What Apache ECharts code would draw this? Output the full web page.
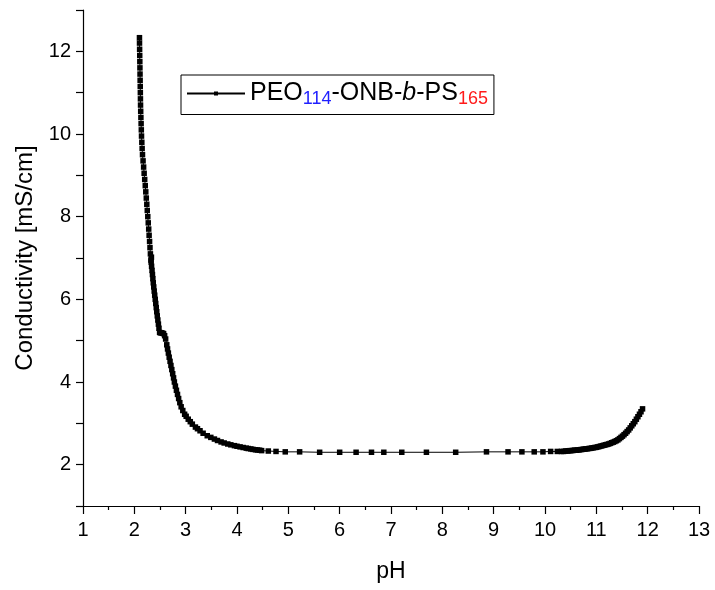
<!DOCTYPE html>
<html>
<head>
<meta charset="utf-8">
<script src="https://cdn.jsdelivr.net/npm/echarts@6/dist/echarts.min.js"></script>
<style>
html,body{margin:0;padding:0;background:#fff;}
#c{width:715px;height:590px;}
</style>
</head>
<body>
<div id="c"></div>
<script>
// pH values (x) and conductivity values (y)
var pH = [
  2.100,2.101,2.103,2.105,2.107,2.109,2.111,2.113,2.115,2.117,2.119,2.121,2.124,2.128,2.132,2.136,2.140,2.146,2.152,2.159,
  2.170,2.181,2.191,2.202,2.213,2.223,2.233,2.243,2.252,2.262,2.271,2.280,2.288,2.297,2.305,2.313,2.333,2.323,
  2.328,2.336,2.345,2.353,2.361,2.369,2.378,2.387,2.397,2.407,2.417,2.427,2.437,2.447,2.458,2.469,2.480,2.492,
  2.510,2.530,2.550,2.570,2.590,2.610,
  2.632,2.647,2.663,2.679,2.696,2.713,2.730,2.747,2.764,2.780,2.800,2.820,2.841,2.863,2.886,2.912,2.944,2.980,
  3.010,3.050,3.090,3.130,3.190,3.230,3.280,3.340,3.420,3.490,3.560,3.620,3.690,3.750,3.820,3.880,3.950,4.000,
  4.060,4.120,4.180,4.220,4.270,4.310,4.360,4.400,4.440,
  4.480,4.610,4.760,4.940,5.220,5.610,6.000,6.320,6.620,6.860,7.210,7.690,8.260,8.860,9.280,9.550,9.790,9.960,10.110,10.240,10.320,10.360,
  10.400,10.430,10.460,10.490,10.520,10.550,10.580,10.610,10.640,10.670,10.700,10.730,10.760,10.790,10.820,10.850,10.880,10.910,10.940,10.970,
  11.000,11.030,11.060,11.090,11.120,11.150,11.180,11.210,11.240,11.270,11.300,11.330,11.360,11.390,11.420,11.450,11.480,11.510,11.540,11.570,
  11.600,11.630,11.660,11.690,11.720,11.750,11.780,11.810,11.840,11.870,11.900
];
var conductivity = [
  12.33,12.20,12.05,11.90,11.75,11.60,11.45,11.30,11.15,11.00,10.85,10.70,10.55,10.40,10.25,10.10,9.95,9.80,9.65,9.50,
  9.35,9.20,9.05,8.90,8.75,8.60,8.45,8.30,8.15,8.00,7.85,7.70,7.55,7.40,7.25,7.10,7.02,6.95,
  6.90,6.80,6.70,6.60,6.50,6.40,6.30,6.20,6.10,6.00,5.90,5.80,5.70,5.60,5.50,5.40,5.30,5.20,
  5.19,5.19,5.18,5.17,5.12,5.04,
  4.90,4.80,4.70,4.60,4.50,4.40,4.30,4.20,4.10,4.00,3.90,3.80,3.70,3.60,3.50,3.40,3.31,3.22,
  3.17,3.10,3.04,2.98,2.91,2.87,2.82,2.76,2.70,2.66,2.62,2.585,2.55,2.525,2.50,2.48,2.46,2.445,
  2.43,2.415,2.40,2.39,2.38,2.37,2.36,2.355,2.35,
  2.34,2.33,2.32,2.31,2.31,2.30,2.30,2.30,2.30,2.30,2.30,2.30,2.30,2.31,2.31,2.31,2.31,2.31,2.32,2.32,2.32,2.32,
  2.33,2.33,2.335,2.34,2.34,2.345,2.35,2.35,2.355,2.36,2.365,2.37,2.375,2.38,2.385,2.39,2.395,2.40,2.41,2.415,
  2.42,2.43,2.44,2.45,2.46,2.47,2.48,2.49,2.50,2.515,2.53,2.545,2.56,2.58,2.60,2.63,2.66,2.69,2.725,2.76,
  2.80,2.84,2.89,2.94,2.99,3.04,3.10,3.16,3.22,3.28,3.35
];
var xTicks = [1,2,3,4,5,6,7,8,9,10,11,12,13];
var yTickLabels = [2,4,6,8,10,12];
var seriesName = 'PEO114-ONB-b-PS165';

var FONT = 'Liberation Sans, Arial, sans-serif';
var data = pH.map(function(v,i){ return [v, conductivity[i]]; });

var chart = echarts.init(document.getElementById('c'), null, {renderer:'canvas'});
chart.setOption({
  animation: false,
  backgroundColor: '#fff',
  grid: {left: 83, right: 16, top: 10, bottom: 84, containLabel: false, outerBoundsMode: 'none'},
  legend: {
    left: 181, top: 75,
    padding: [6, 6, 6, 5],
    borderColor: '#000', borderWidth: 1,
    itemWidth: 58, itemHeight: 5,
    data: [seriesName],
    formatter: function(){ return '{a|PEO}{s|114}{a|-ONB-}{i|b}{a|-PS}{r|165}'; },
    textStyle: {
      fontFamily: FONT, color: '#000',
      rich: {
        a: {fontFamily: FONT, fontSize: 25, color: '#000', lineHeight: 30},
        i: {fontFamily: FONT, fontSize: 25, color: '#000', fontStyle: 'italic', lineHeight: 30},
        s: {fontFamily: FONT, fontSize: 18, color: '#1f1fff', lineHeight: 10, verticalAlign: 'bottom'},
        r: {fontFamily: FONT, fontSize: 18, color: '#ff1a1a', lineHeight: 10, verticalAlign: 'bottom'}
      }
    }
  },
  xAxis: {
    type: 'value', min: xTicks[0], max: xTicks[xTicks.length-1], interval: 1,
    name: 'pH', nameLocation: 'middle', nameGap: 54,
    nameTextStyle: {fontFamily: FONT, fontSize: 23, color: '#000'},
    axisLine: {show: true, onZero: false, lineStyle: {color: '#000', width: 1.2}},
    axisTick: {show: true, inside: false, length: 8, lineStyle: {color: '#000', width: 1.2}},
    minorTick: {show: true, splitNumber: 2, length: 4, lineStyle: {color: '#000', width: 1.2}},
    axisLabel: {fontFamily: FONT, fontSize: 20, color: '#000', margin: 14},
    splitLine: {show: false}, minorSplitLine: {show: false}
  },
  yAxis: {
    type: 'value', min: 1, max: 13, interval: 1,
    name: 'Conductivity [mS/cm]', nameLocation: 'middle', nameGap: 41,
    nameTextStyle: {fontFamily: FONT, fontSize: 24, color: '#000'},
    axisLine: {show: true, onZero: false, lineStyle: {color: '#000', width: 1.2}},
    axisTick: {show: true, inside: false, length: 7, lineStyle: {color: '#000', width: 1.2}},
    axisLabel: {
      fontFamily: FONT, fontSize: 20, color: '#000', margin: 12,
      formatter: function(v){ return yTickLabels.indexOf(v) >= 0 ? String(v) : ''; }
    },
    splitLine: {show: false}
  },
  series: [{
    name: seriesName,
    type: 'line',
    data: data,
    symbol: 'rect',
    symbolSize: 5.5,
    showSymbol: true,
    itemStyle: {color: '#000'},
    lineStyle: {color: '#000', width: 1},
    emphasis: {disabled: true}
  }]
});
</script>
</body>
</html>
